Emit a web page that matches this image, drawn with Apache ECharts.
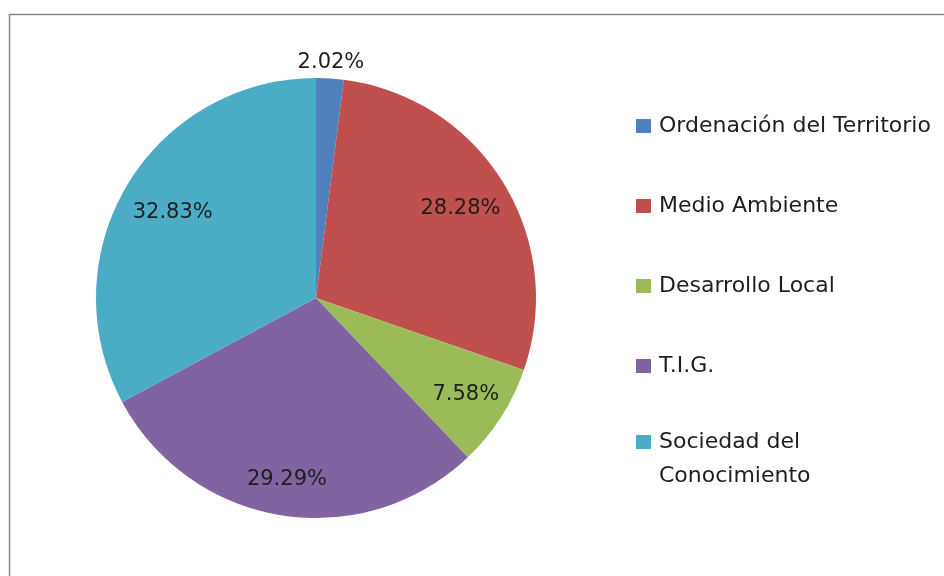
<!DOCTYPE html>
<html>
<head>
<meta charset="utf-8">
<script src="https://cdn.jsdelivr.net/npm/echarts@6/dist/echarts.min.js"></script>
<style>
  html, body { margin: 0; padding: 0; background: #fff; }
  #chart { width: 944px; height: 576px; }
</style>
</head>
<body>
<div id="chart"></div>
<script>
var categories = ['Ordenación del Territorio', 'Medio Ambiente', 'Desarrollo Local', 'T.I.G.', 'Sociedad del Conocimiento']
var shares = [2.02, 28.28, 7.58, 29.29, 32.83]
var colors = ['#4f81bd', '#c0504d', '#9bbb59', '#8064a2', '#4bacc6']

var font = 'DejaVu Sans'
var textColor = '#1e1e1e'

var pieData = categories.map(function (name, i) {
  return { name: name, value: shares[i] }
})

// labels sit further out than echarts' "inside" midpoint, so draw them
// from wider transparent pies (label lands at half the outer radius)
var labelSeries = function (outer, showIdx) {
  return {
    type: 'pie',
    center: [316, 298],
    radius: [0, outer],
    startAngle: 90,
    clockwise: true,
    silent: true,
    animation: false,
    itemStyle: { color: 'rgba(0,0,0,0)' },
    label: {
      position: 'inside',
      formatter: function (p) { return p.value.toFixed(2) + '%' },
      color: textColor,
      fontFamily: font,
      fontSize: 21
    },
    labelLine: { show: false },
    emphasis: { disabled: true },
    data: categories.map(function (name, i) {
      return { name: name, value: shares[i], label: { show: showIdx.indexOf(i) >= 0 } }
    })
  }
}

var chart = echarts.init(document.getElementById('chart'))
chart.setOption({
  backgroundColor: '#fff',
  color: colors,
  animation: false,
  graphic: [{
    type: 'rect',
    shape: { x: 9.5, y: 14.5, width: 1000, height: 1000 },
    style: { fill: 'none', stroke: '#8a8a8a', lineWidth: 1.5 },
    silent: true
  }],
  legend: [
    {
      orient: 'vertical',
      left: 636,
      top: 109,
      padding: 0,
      itemWidth: 15,
      itemHeight: 14,
      itemGap: 46,
      icon: 'rect',
      data: categories.slice(0, 4),
      textStyle: { fontFamily: font, fontSize: 22, color: textColor, lineHeight: 34, padding: [0, 0, 0, 3] }
    },
    {
      orient: 'vertical',
      left: 636,
      top: 391,
      padding: 0,
      itemWidth: 15,
      itemHeight: 14,
      icon: 'rect',
      data: categories.slice(4),
      // empty first line keeps the icon level with "Sociedad del"
      formatter: function (name) { return '\n' + name.replace('del ', 'del\n') },
      textStyle: { fontFamily: font, fontSize: 22, color: textColor, lineHeight: 34, padding: [0, 0, 0, 3] }
    }
  ],
  series: [
    {
      type: 'pie',
      center: [316, 298],
      radius: 220,
      startAngle: 90,
      clockwise: true,
      label: { show: false },
      labelLine: { show: false },
      itemStyle: { borderWidth: 0 },
      emphasis: { disabled: true },
      data: pieData
    },
    labelSeries(334, [1]),
    labelSeries(328, [4]),
    labelSeries(350, [2]),
    labelSeries(362, [3]),
    labelSeries(466, [0])
  ]
})
</script>
</body>
</html>
